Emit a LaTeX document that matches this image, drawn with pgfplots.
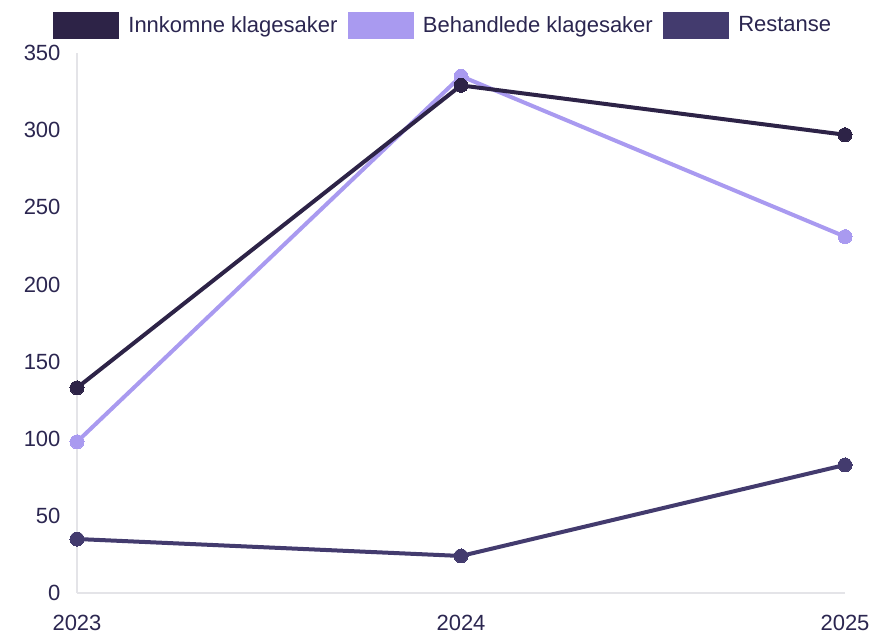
\documentclass[border=0pt]{standalone}
\usepackage{pgfplots}
\pgfplotsset{compat=1.18}
\usepackage{fontspec}
\setmainfont{Liberation Sans}
\definecolor{cInn}{HTML}{2D2347}
\definecolor{cBeh}{HTML}{A99AF0}
\definecolor{cRes}{HTML}{433B6E}
\definecolor{cTxt}{HTML}{2B2650}
\definecolor{cAx}{HTML}{E4E4E8}
\begin{document}
\begin{tikzpicture}
\begin{axis}[
  scale only axis,
  width=768pt, height=540pt,
  xmin=2023, xmax=2025, ymin=0, ymax=350,
  xtick={2023,2024,2025},
  xticklabels={2023,2024,2025},
  ytick={0,50,100,150,200,250,300,350},
  axis lines=left,
  axis line style={cAx, line width=1.2pt, -},
  major tick length=0pt,
  tick label style={font=\fontsize{22}{25}\selectfont, text=cTxt},
  /pgf/number format/assume math mode=true,
  xticklabel style={yshift=-19pt},
  yticklabel style={xshift=-13pt},
  clip=false,
  legend columns=3,
  legend style={draw=none, fill=none, at={(0.478,1.052)}, anchor=center,
    font=\fontsize{22}{25}\selectfont, text=cTxt,
    /tikz/every even column/.append style={column sep=6pt},
    nodes={inner sep=4pt}},
  legend cell align=left,
]
\addlegendimage{legend image code/.code={\fill[cInn] (0pt,-13pt) rectangle (65pt,13pt); \path (71pt,0pt);}}
\addlegendentry{Innkomne klagesaker}
\addlegendimage{legend image code/.code={\fill[cBeh] (0pt,-13pt) rectangle (65pt,13pt); \path (71pt,0pt);}}
\addlegendentry{Behandlede klagesaker}
\addlegendimage{legend image code/.code={\fill[cRes] (0pt,-13pt) rectangle (65pt,13pt); \path (71pt,0pt);}}
\addlegendentry{Restanse}
\addplot[forget plot, cBeh, line width=4pt, mark=*, mark size=7pt, mark options={solid, fill=cBeh, draw=cBeh, line width=0pt}]
  coordinates {(2023,98) (2024,335) (2025,231)};
\addplot[forget plot, cRes, line width=4pt, mark=*, mark size=7pt, mark options={solid, fill=cRes, draw=cRes, line width=0pt}]
  coordinates {(2023,35) (2024,24) (2025,83)};
\addplot[forget plot, cInn, line width=4pt, mark=*, mark size=7pt, mark options={solid, fill=cInn, draw=cInn, line width=0pt}]
  coordinates {(2023,133) (2024,329) (2025,297)};
\end{axis}
\pgfresetboundingbox
\path[use as bounding box] (-77pt,-41pt) rectangle (797pt,593pt);
\end{tikzpicture}
\end{document}
